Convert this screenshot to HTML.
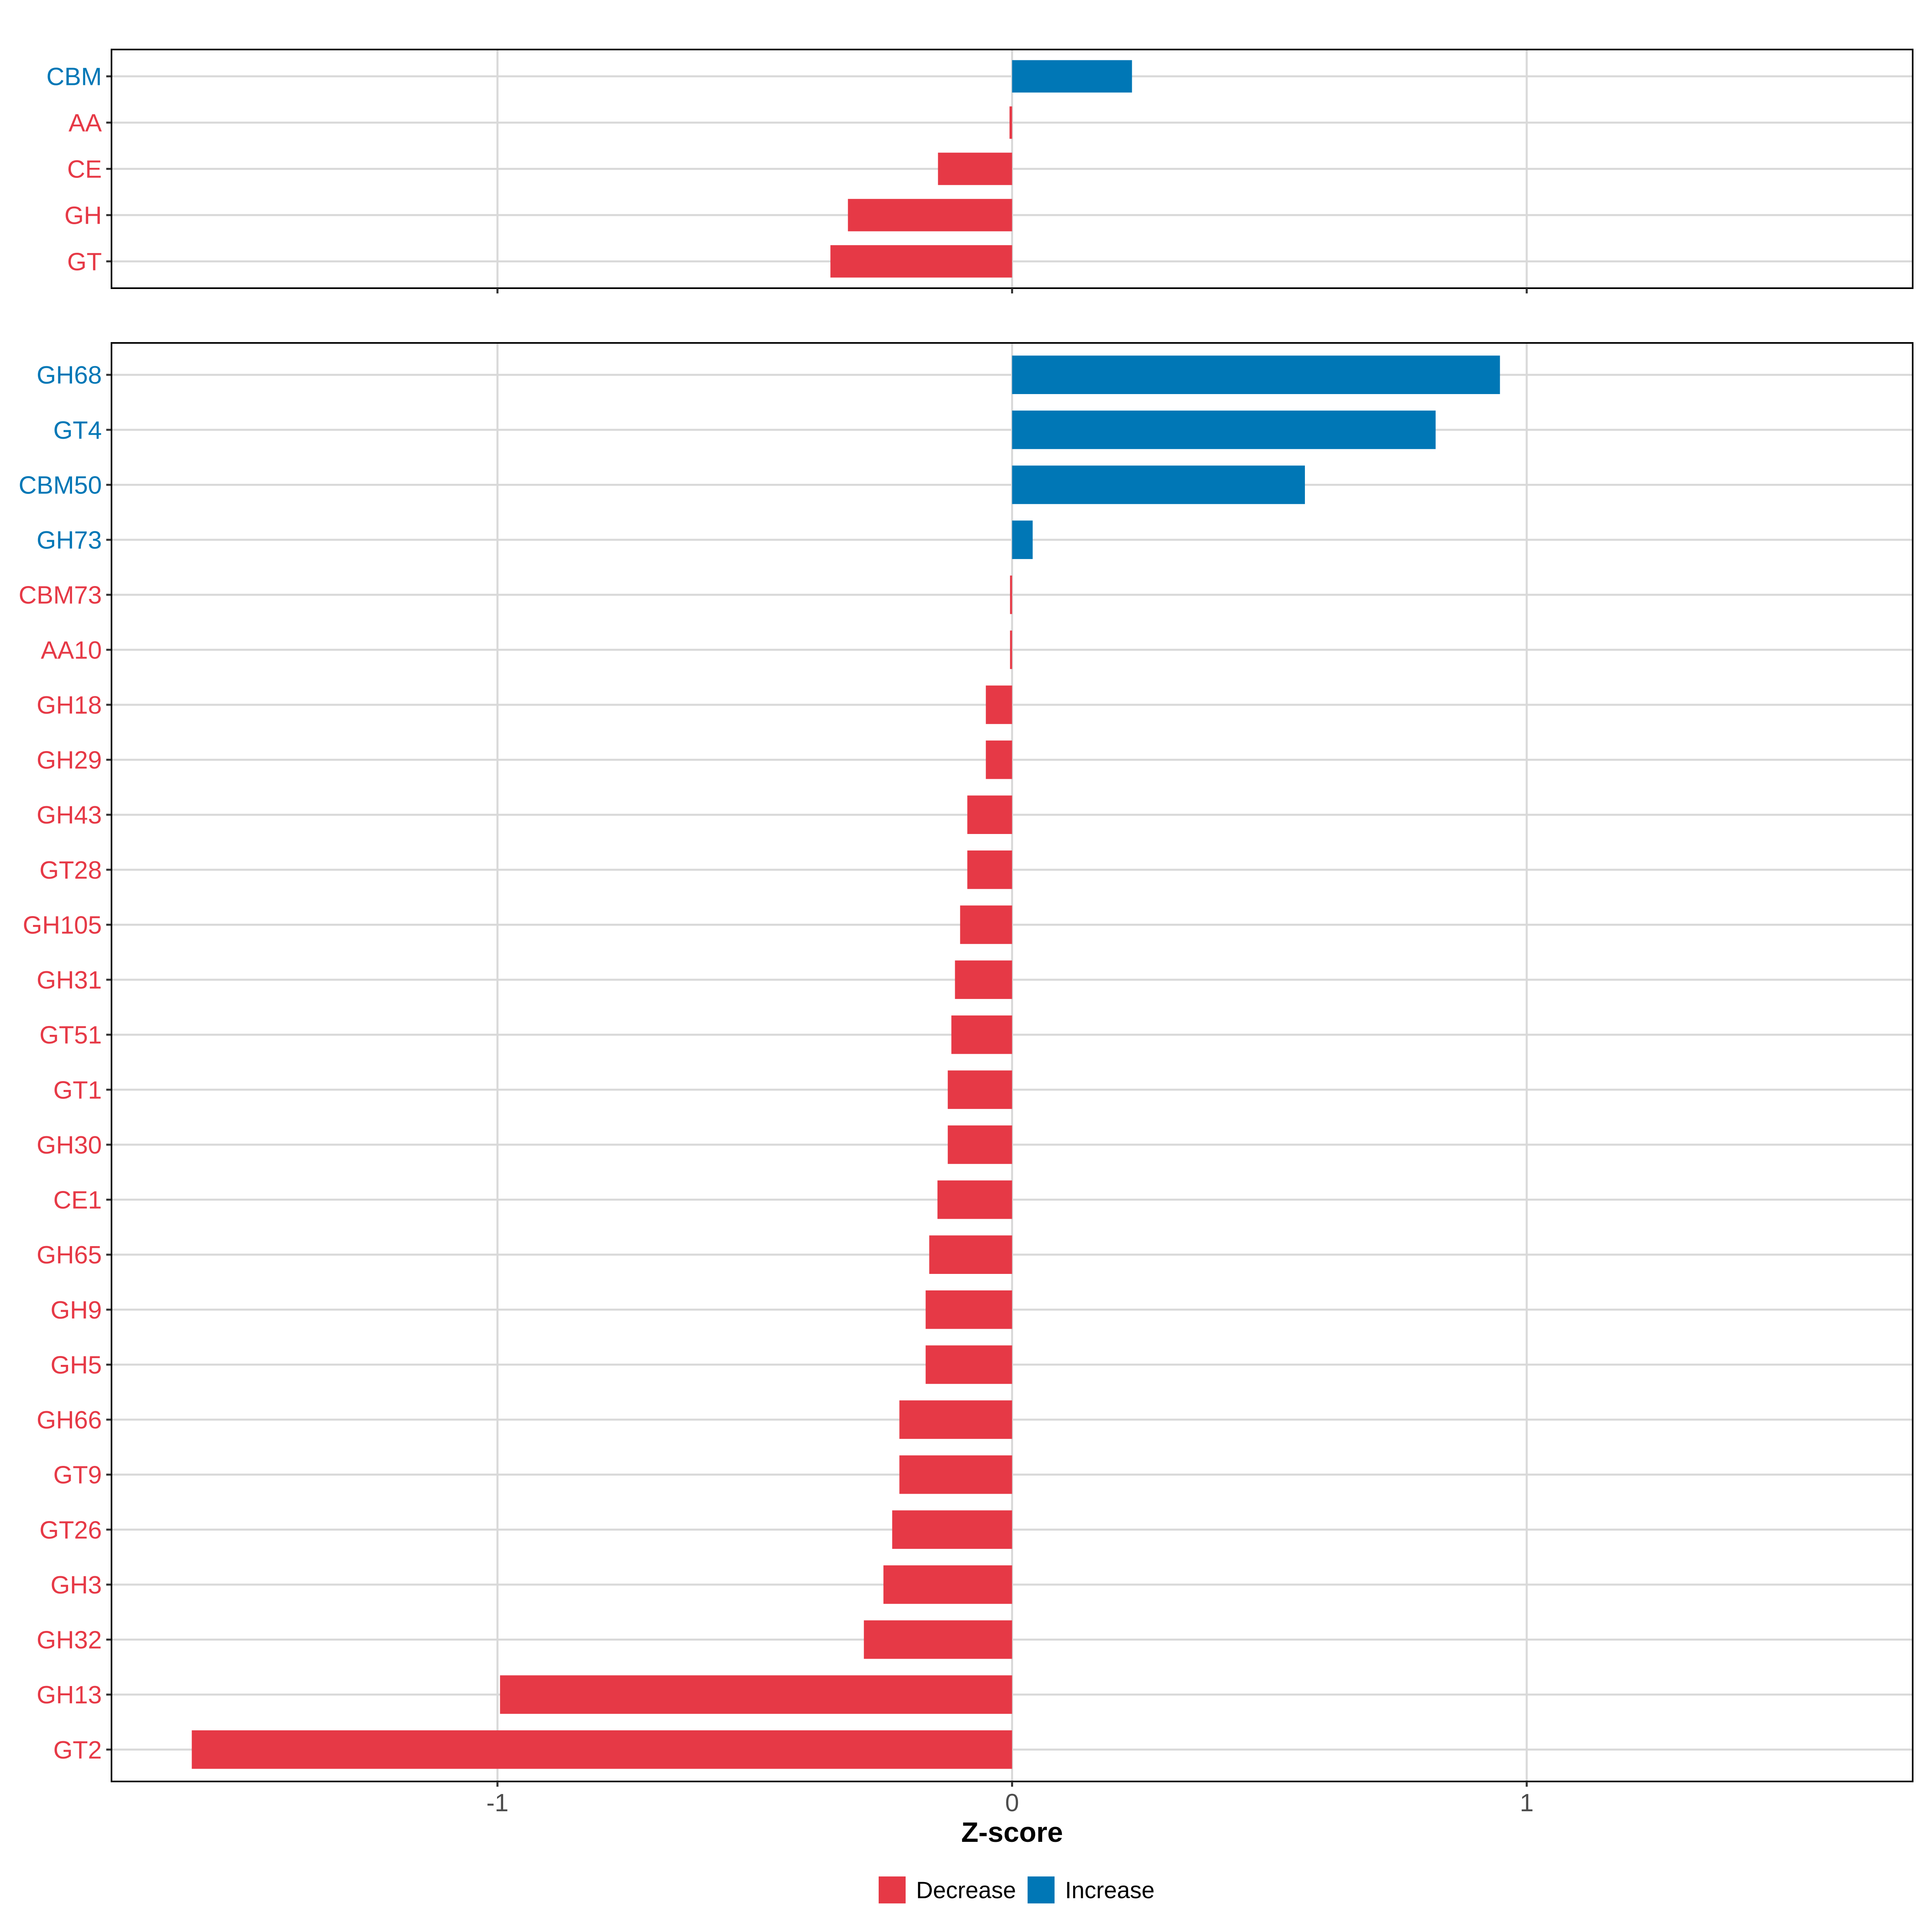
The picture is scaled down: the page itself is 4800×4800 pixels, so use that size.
<!DOCTYPE html>
<html><head><meta charset="utf-8"><style>
html,body{margin:0;padding:0;background:#fff;}
svg{display:block;font-family:"Liberation Sans",sans-serif;}
</style></head><body>
<svg id="chart" width="4800" height="4800" viewBox="0 0 4800 4800" xmlns="http://www.w3.org/2000/svg">
<rect width="4800" height="4800" fill="#fff"/>
</svg>
<script>
const topCategories = ["CBM","AA","CE","GH","GT"];
const topValues = [0.233, -0.005, -0.144, -0.319, -0.353];
const bottomCategories = ["GH68","GT4","CBM50","GH73","CBM73","AA10","GH18","GH29","GH43","GT28","GH105","GH31","GT51","GT1","GH30","CE1","GH65","GH9","GH5","GH66","GT9","GT26","GH3","GH32","GH13","GT2"];
const bottomValues = [0.948, 0.823, 0.569, 0.040, -0.004, -0.004, -0.051, -0.051, -0.087, -0.087, -0.101, -0.111, -0.118, -0.125, -0.125, -0.145, -0.161, -0.168, -0.168, -0.219, -0.219, -0.233, -0.250, -0.288, -0.995, -1.594];
const xTicks = [-1, 0, 1];
const xTickLabels = ["-1", "0", "1"];
const legendLabels = ["Decrease", "Increase"];

const NS = "http://www.w3.org/2000/svg";
const svg = document.getElementById("chart");
const RED = "#E63946", BLUE = "#0077B6";
const xMin = -1.75, xMax = 1.75, L = 277, R = 4752;
function xScale(v){ return L + (v - xMin) / (xMax - xMin) * (R - L); }
function mk(tag, attrs, parent){
  const e = document.createElementNS(NS, tag);
  for (const k in attrs) e.setAttribute(k, attrs[k]);
  (parent || svg).appendChild(e);
  return e;
}

function panel(cats, vals, top, bottom, name){
  const g = mk("g", {});
  
  
  const n = cats.length;
  const step = (bottom - top) / (n - 1 + 1.16);
  const y0 = top + 0.58 * step;
  const yScale = i => y0 + i * step;
  // vertical grid
  xTicks.forEach(t => {
    const l = mk("line", {x1: xScale(t), x2: xScale(t), y1: top, y2: bottom, stroke: "#D9D9D9", "stroke-width": 5}, g);
    
    
  });
  cats.forEach((c, i) => {
    const y = yScale(i);
    const gl = mk("line", {x1: L, x2: R, y1: y, y2: y, stroke: "#D9D9D9", "stroke-width": 5}, g);
    
    
  });
  cats.forEach((c, i) => {
    const y = yScale(i), v = vals[i];
    const col = v >= 0 ? BLUE : RED;
    const x1 = xScale(Math.min(0, v)), x2 = xScale(Math.max(0, v));
    const h = step * 0.7;
    const b = mk("rect", {x: x1, y: y - h / 2, width: Math.max(x2 - x1, 1), height: h, fill: col}, g);
    
    
    const tk = mk("line", {x1: L - 13, x2: L, y1: y, y2: y, stroke: "#333", "stroke-width": 5}, g);
    
    
    const t = mk("text", {x: 253, y: y + 22, "text-anchor": "end", "font-size": 62, fill: col}, g);
    t.textContent = c;
    
    
  });
  const border = mk("rect", {x: L, y: top, width: R - L, height: bottom - top, fill: "none", stroke: "#000", "stroke-width": 4}, g);
  
  
  xTicks.forEach(t => {
    const l = mk("line", {x1: xScale(t), x2: xScale(t), y1: bottom, y2: bottom + 13, stroke: "#333", "stroke-width": 5}, g);
    
    
  });
}

panel(topCategories, topValues, 123, 716, "top-panel");
panel(bottomCategories, bottomValues, 852, 4426, "bottom-panel");

xTicks.forEach((t, i) => {
  const tx = mk("text", {x: xScale(t), y: 4500, "text-anchor": "middle", "font-size": 62, fill: "#4D4D4D"});
  tx.textContent = xTickLabels[i];
  
  
});

const title = mk("text", {x: xScale(0), y: 4576, "text-anchor": "middle", "font-size": 70, "font-weight": "bold", fill: "#000"});
title.textContent = "Z-score";



const legendX = [2183, 2553];
const legendColors = [RED, BLUE];
legendLabels.forEach((lab, i) => {
  const k = mk("rect", {x: legendX[i], y: 4662, width: 67, height: 67, fill: legendColors[i]});
  
  
  const t = mk("text", {x: legendX[i] + 93, y: 4716, "font-size": 58, fill: "#000"});
  t.textContent = lab;
  
  
});
</script>
</body></html>
